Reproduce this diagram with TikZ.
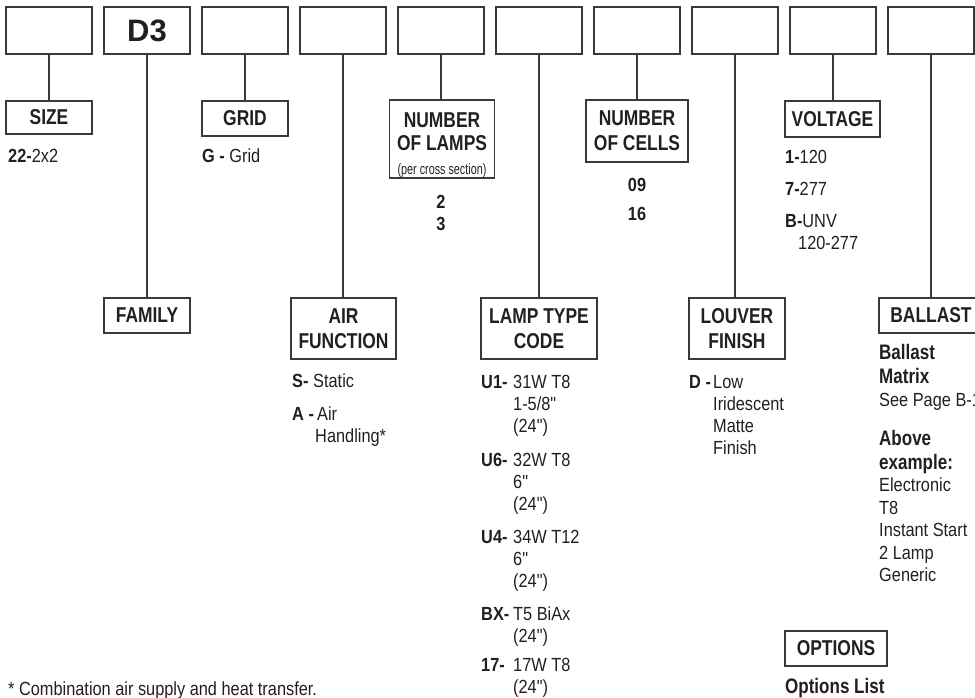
\documentclass[tikz,border=0pt]{standalone}
\usepackage{fontspec}
\setmainfont{Liberation Sans}[FakeStretch=0.86]
\newfontfamily\lblfam{Liberation Sans}[FakeStretch=0.81]
\newfontfamily\narfam{Liberation Sans}[FakeStretch=0.72]
\newfontfamily\qfam{Liberation Sans}[FakeStretch=0.86]
\newfontfamily\dfam{Liberation Sans}
\newcommand\dq{{\qfam"}}
\definecolor{ink}{HTML}{231F20}
\definecolor{rulec}{HTML}{3A3A3A}
\begin{document}
\begin{tikzpicture}[x=1pt,y=-1pt,
  topbox/.style={draw=rulec, line width=1.4pt, minimum width=86pt, minimum height=47pt, inner sep=0pt},
  lbl/.style={draw=rulec, line width=1.4pt, inner sep=0pt, align=center, text=ink,
    font=\lblfam\bfseries\fontsize{21.5}{25}\selectfont},
  conn/.style={draw=rulec, line width=1.4pt},
  vt/.style={anchor=base west, inner sep=0pt, text=ink, font=\fontsize{19}{22}\selectfont},
  vc/.style={anchor=base west, inner sep=0pt, text=ink, font=\bfseries\fontsize{19}{22}\selectfont},
  vn/.style={anchor=base, inner sep=0pt, text=ink, font=\bfseries\fontsize{19}{22}\selectfont},
  vh/.style={anchor=base west, inner sep=0pt, text=ink, font=\lblfam\bfseries\fontsize{21}{25}\selectfont}
]
\useasboundingbox (0,0) rectangle (975,698);
% top code boxes
\node[topbox] (t0) at (49,30.5) {};
\node[topbox, text=ink, font=\dfam\bfseries\fontsize{31}{31}\selectfont] (t1) at (147,30.5) {D3};
\foreach \i in {2,...,9} \node[topbox] (t\i) at ({49+98*\i},30.5) {};
% label boxes
\node[lbl, minimum width=86pt, minimum height=33pt] (size) at (49,117.5) {SIZE};
\node[lbl, minimum width=86pt, minimum height=35pt] (grid) at (245,118.5) {GRID};
\node[lbl, minimum width=105pt, minimum height=78pt] (nlamps) at (442,139)
  {\rule{0pt}{28pt}NUMBER\\[-2pt]OF LAMPS\\[-1pt]{\narfam\mdseries\fontsize{15}{15}\selectfont (per cross section)}};
\node[lbl, minimum width=102pt, minimum height=62pt] (ncells) at (637,131) {NUMBER\\OF CELLS};
\node[lbl, minimum width=95pt, minimum height=36pt] (voltage) at (832.5,119) {VOLTAGE};
\node[lbl, minimum width=86pt, minimum height=35pt] (family) at (147,315.5) {FAMILY};
\node[lbl, minimum width=105pt, minimum height=61pt] (airf) at (343.5,328.5) {AIR\\FUNCTION};
\node[lbl, minimum width=116pt, minimum height=61pt] (lamptype) at (539,328.5) {LAMP TYPE\\CODE};
\node[lbl, minimum width=96pt, minimum height=61pt] (louver) at (737,328.5) {LOUVER\\FINISH};
\node[lbl, minimum width=104pt, minimum height=35pt] (ballast) at (931,315.5) {BALLAST};
\node[lbl, minimum width=102pt, minimum height=35pt] (options) at (836,648.5) {OPTIONS};
% connectors
\foreach \a/\b in {t0/size, t1/family, t2/grid, t3/airf, t4/nlamps, t5/lamptype, t6/ncells, t7/louver, t8/voltage, t9/ballast}
  \draw[conn] (\a.south) -- (\a.south |- \b.north);
% size / grid
\node[vt] (sz1) at (8,163) {{\bfseries 22-}2x2};
\node[vt] (gr1) at (202,163) {{\bfseries G -} Grid};
% lamps / cells
\node[vn] (nl1) at (441,208) {2};
\node[vn] (nl2) at (441,230) {3};
\node[vn] (nc1) at (637,192) {09};
\node[vn] (nc2) at (637,220) {16};
% voltage
\node[vt] (v1) at (785,164) {{\bfseries 1-}120};
\node[vt] (v2) at (785,196) {{\bfseries 7-}277};
\node[vt] (v3) at (785,227) {{\bfseries B-}UNV};
\node[vt] (v4) at (798,249) {120-277};
% air function
\node[vc] (a1c) at (292,387) {S-};
\node[vt] (a1) at (313,387) {Static};
\node[vc] (a2c) at (292,420) {A -};
\node[vt] (a2) at (317,420) {Air};
\node[vt] (a3) at (315,442) {Handling*};
% lamp type
\node[vc] (l1c) at (481,388) {U1-};
\node[vt] (l1a) at (513,388) {31W T8};
\node[vt] (l1b) at (513,410) {1-5/8\dq};
\node[vt] (l1d) at (513,432) {(24\dq)};
\node[vc] (l2c) at (481,466) {U6-};
\node[vt] (l2a) at (513,466) {32W T8};
\node[vt] (l2b) at (513,488) {6\dq};
\node[vt] (l2d) at (513,510) {(24\dq)};
\node[vc] (l3c) at (481,543) {U4-};
\node[vt] (l3a) at (513,543) {34W T12};
\node[vt] (l3b) at (513,565) {6\dq};
\node[vt] (l3d) at (513,587) {(24\dq)};
\node[vc] (l4c) at (481,620) {BX-};
\node[vt] (l4a) at (513,620) {T5 BiAx};
\node[vt] (l4b) at (513,642) {(24\dq)};
\node[vc] (l5c) at (481,671) {17-};
\node[vt] (l5a) at (513,671) {17W T8};
\node[vt] (l5b) at (513,693) {(24\dq)};
% louver
\node[vc] (f1c) at (689,388) {D -};
\node[vt] (f1) at (713,388) {Low};
\node[vt] (f2) at (713,410) {Iridescent};
\node[vt] (f3) at (713,432) {Matte};
\node[vt] (f4) at (713,454) {Finish};
% ballast
\node[vh] (b1) at (879,359) {Ballast};
\node[vh] (b2) at (879,383) {Matrix};
\node[vt] (b3) at (879,406) {See Page B-1};
\node[vh] (b4) at (879,445) {Above};
\node[vh] (b5) at (879,469) {example:};
\node[vt] (b6) at (879,491.5) {Electronic};
\node[vt] (b7) at (879,514) {T8};
\node[vt] (b8) at (879,536.5) {Instant Start};
\node[vt] (b9) at (879,559) {2 Lamp};
\node[vt] (b10) at (879,581.5) {Generic};
% options
\node[vh] (o1) at (785,693) {Options List};
% footnote
\node[vt] (fn) at (8,695) {* Combination air supply and heat transfer.};
\end{tikzpicture}
\end{document}
